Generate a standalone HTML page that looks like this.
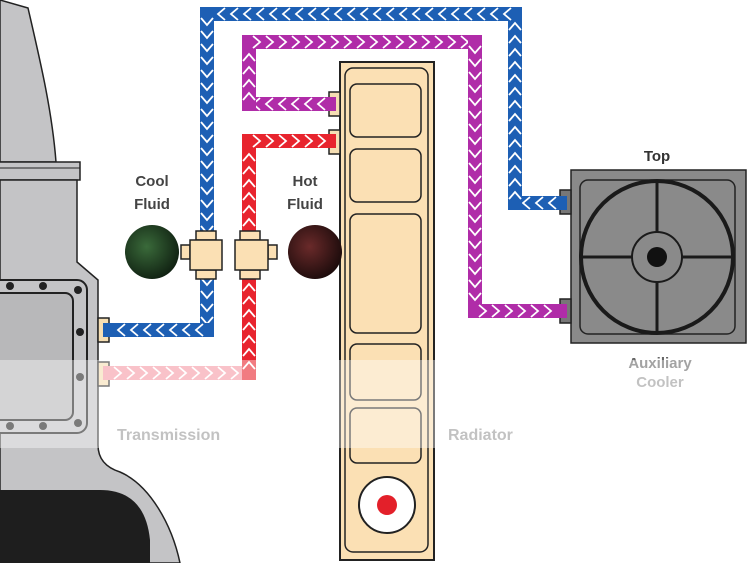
<!DOCTYPE html>
<html><head><meta charset="utf-8"><style>
html,body{margin:0;padding:0;background:#fff;width:750px;height:563px;overflow:hidden}
svg text{font-family:"Liberation Sans",sans-serif;font-weight:bold}
</style></head><body>
<svg id="s" width="750" height="563" viewBox="0 0 750 563" xmlns="http://www.w3.org/2000/svg">
<!-- transmission -->
<path d="M0,0 L28,8 C40,60 52,110 56,162 L0,162 Z" fill="#c4c4c6" stroke="#222" stroke-width="1.5"/>
<rect x="-2" y="162" width="82" height="18" fill="#c4c4c6" stroke="#222" stroke-width="1.5"/>
<line x1="0" y1="168" x2="80" y2="168" stroke="#222" stroke-width="1"/>
<path d="M0,180 L77,180 L77,262 L98,280 L98,445 Q98,465 120,472 C150,485 172,525 180,563 L0,563 Z" fill="#c4c4c6" stroke="#222" stroke-width="1.5"/>
<path d="M0,563 L0,490 L100,490 Q145,490 150,540 L150,563 Z" fill="#1e1e1e"/>
<rect x="-10" y="280" width="97" height="153" rx="10" fill="#c4c4c6" stroke="#222" stroke-width="2"/>
<rect x="-10" y="293" width="83" height="127" rx="8" fill="#b8b8ba" stroke="#222" stroke-width="2"/>
<g fill="#222"><circle cx="10" cy="286" r="4"/><circle cx="43" cy="286" r="4"/><circle cx="78" cy="290" r="4"/><circle cx="80" cy="332" r="4"/><circle cx="80" cy="377" r="4"/><circle cx="10" cy="426" r="4"/><circle cx="43" cy="426" r="4"/><circle cx="78" cy="423" r="4"/></g>
<rect x="98" y="318" width="11" height="24" fill="#f5deb3" stroke="#222" stroke-width="1.5"/>
<rect x="98" y="362" width="11" height="24" fill="#f5deb3" stroke="#222" stroke-width="1.5"/>
<!-- radiator -->
<rect x="340" y="62" width="94" height="498" fill="#fbe0b4" stroke="#222" stroke-width="2"/>
<rect x="345" y="68" width="83" height="484" rx="8" fill="#fbe0b4" stroke="#222" stroke-width="1.5"/>
<g fill="#fbe0b4" stroke="#222" stroke-width="1.5">
<rect x="350" y="84" width="71" height="53" rx="7"/>
<rect x="350" y="149" width="71" height="53" rx="7"/>
<rect x="350" y="214" width="71" height="119" rx="7"/>
<rect x="350" y="344" width="71" height="56" rx="7"/>
<rect x="350" y="408" width="71" height="55" rx="7"/>
</g>
<circle cx="387" cy="505" r="28" fill="#fff" stroke="#222" stroke-width="2"/>
<circle cx="387" cy="505" r="10" fill="#e3202a"/>
<rect x="329" y="92" width="11" height="24" fill="#f5deb3" stroke="#222" stroke-width="1.5"/>
<rect x="329" y="130" width="11" height="24" fill="#f5deb3" stroke="#222" stroke-width="1.5"/>
<!-- cooler -->
<rect x="571" y="170" width="175" height="173" fill="#8a8a8a" stroke="#222" stroke-width="1.5"/>
<rect x="580" y="180" width="155" height="154" rx="8" fill="#8a8a8a" stroke="#222" stroke-width="1.5"/>
<circle cx="657" cy="257" r="76" fill="none" stroke="#1a1a1a" stroke-width="4"/>
<line x1="657" y1="181" x2="657" y2="333" stroke="#1a1a1a" stroke-width="3"/>
<line x1="581" y1="257" x2="733" y2="257" stroke="#1a1a1a" stroke-width="3"/>
<circle cx="657" cy="257" r="25" fill="#8a8a8a" stroke="#1a1a1a" stroke-width="2"/>
<circle cx="657" cy="257" r="10" fill="#111"/>
<rect x="560" y="190" width="11" height="24" fill="#777" stroke="#222" stroke-width="1.5"/>
<rect x="560" y="299" width="11" height="24" fill="#777" stroke="#222" stroke-width="1.5"/>
<g id="pipes"></g>
<defs>
<radialGradient id="gg" cx="0.4" cy="0.4" r="0.7"><stop offset="0" stop-color="#3a6a3a"/><stop offset="1" stop-color="#0c1a0e"/></radialGradient>
<radialGradient id="rg" cx="0.4" cy="0.4" r="0.7"><stop offset="0" stop-color="#6a2a2a"/><stop offset="1" stop-color="#140808"/></radialGradient>
</defs>
<circle cx="152" cy="252" r="27" fill="url(#gg)"/>
<circle cx="315" cy="252" r="27" fill="url(#rg)"/>
<g fill="#fbe0b4" stroke="#222" stroke-width="1.5">
<rect x="181" y="245" width="9" height="14"/><rect x="196" y="231" width="20" height="9"/><rect x="196" y="270" width="20" height="9"/>
<rect x="190" y="240" width="32" height="30"/>
<rect x="268" y="245" width="9" height="14"/><rect x="240" y="231" width="20" height="9"/><rect x="240" y="270" width="20" height="9"/>
<rect x="235" y="240" width="33" height="30"/>
</g>
<g fill="#444" font-size="15" text-anchor="middle">
<text x="152" y="186">Cool</text><text x="152" y="209">Fluid</text>
<text x="305" y="186">Hot</text><text x="305" y="209">Fluid</text>
<text x="657" y="161" fill="#333">Top</text>
<text x="660" y="368" fill="#666">Auxiliary</text><text x="660" y="387" fill="#999">Cooler</text>
</g>
<g fill="#9a9a9a" font-size="16">
<text x="117" y="440">Transmission</text><text x="448" y="440">Radiator</text>
</g>
<rect x="0" y="360" width="750" height="88" fill="#fff" opacity="0.4"/>
</svg>
<script>
var g=document.getElementById('pipes'),NS='http://www.w3.org/2000/svg';
function seg(x1,y1,x2,y2,col){
 var l=document.createElementNS(NS,'line');
 l.setAttribute('x1',x1);l.setAttribute('y1',y1);l.setAttribute('x2',x2);l.setAttribute('y2',y2);
 l.setAttribute('stroke',col);l.setAttribute('stroke-width',14);l.setAttribute('stroke-linecap','square');g.appendChild(l);
 var dx=x2-x1,dy=y2-y1,L=Math.hypot(dx,dy),ux=dx/L,uy=dy/L,px=-uy,py=ux;
 for(var t=10;t<L-4;t+=13){
  var cx=x1+ux*t,cy=y1+uy*t;
  var p=document.createElementNS(NS,'polyline');
  var a=[cx-ux*6+px*6,cy-uy*6+py*6,cx+ux*1,cy+uy*1,cx-ux*6-px*6,cy-uy*6-py*6];
  p.setAttribute('points',a.join(','));p.setAttribute('fill','none');p.setAttribute('stroke','#fff');p.setAttribute('stroke-width',1.8);
  g.appendChild(p);
 }
}
var B='#1d5fb4',P='#b02ca8',R='#e8242e',K='#f59aa6';
seg(560,203,515,203,B);seg(515,203,515,14,B);seg(515,14,207,14,B);seg(207,14,207,330,B);seg(207,330,110,330,B);
seg(329,104,249,104,P);seg(249,104,249,42,P);seg(249,42,475,42,P);seg(475,42,475,311,P);seg(475,311,560,311,P);
seg(110,373,249,373,K);seg(249,373,249,141,R);seg(249,141,329,141,R);
</script>
</body></html>
